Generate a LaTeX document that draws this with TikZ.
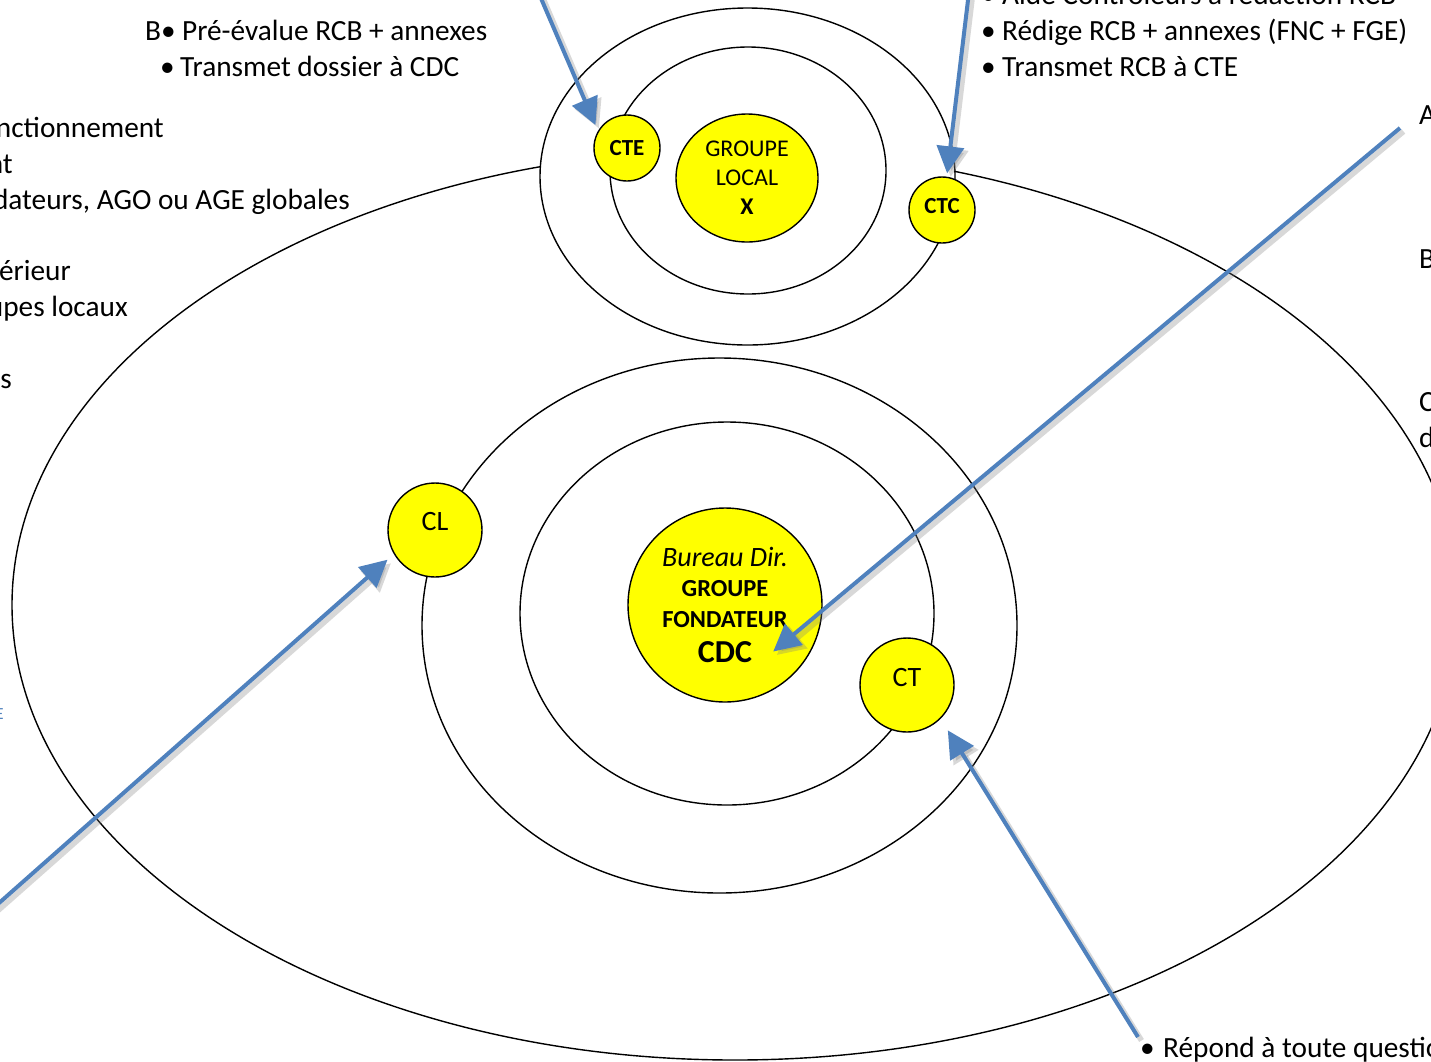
\documentclass[tikz,border=0pt]{standalone}
\usepackage{fontspec}
\setmainfont{Carlito}
\usetikzlibrary{arrows.meta,shapes.geometric,calc}
\definecolor{arrblue}{RGB}{79,129,189}
\definecolor{sunyel}{RGB}{255,255,0}
\newcommand{\bul}[1]{\makebox[#1][l]{•}}
\begin{document}
\begin{tikzpicture}[x=1pt,y=-1pt,
  ring/.style={draw=black, line width=1.4pt, fill=white},
  ybub/.style={circle, draw=black, line width=1.4pt, fill=sunyel, inner sep=0pt, align=center},
  txt/.style={inner sep=0pt, font=\fontsize{29.3}{36}\selectfont},
  conn/.style={draw=arrblue, line width=4pt, -{Triangle[length=27pt,width=27pt]}},
  connshadow/.style={draw=black!50, opacity=0.3, line width=5.5pt, -{Triangle[length=28pt,width=28pt]}, transform canvas={shift={(3.5pt,-3.5pt)}}},
]
\clip (0,0) rectangle (1431,1061);
\fill[white] (0,0) rectangle (1431,1061);

% big system
\draw[ring] (735,605) ellipse [x radius=723pt, y radius=455pt];
\draw[ring] (719.5,625.5) ellipse [x radius=297.5pt, y radius=267.5pt];
\draw[ring] (727,613.5) ellipse [x radius=207pt, y radius=191.5pt];

\node[ybub, minimum size=194pt, font=\fontsize{24.5}{30.25}\selectfont] (cdc) at (725,605)
  {{\itshape\fontsize{28}{30.25}\selectfont Bureau Dir.}\\ \textbf{GROUPE}\\ \textbf{FONDATEUR}\\[5pt] {\bfseries\fontsize{32}{30.25}\selectfont CDC}};
\node[ybub, minimum size=94pt, text depth=18pt, font=\fontsize{28}{30}\selectfont] (cl) at (435,530) {CL};
\node[ybub, minimum size=94pt, text depth=16pt, font=\fontsize{28}{30}\selectfont] (ct) at (907,685) {CT};

% top system
\draw[ring] (747.5,176.5) ellipse [x radius=207.5pt, y radius=168.5pt];
\draw[ring] (748,170.5) ellipse [x radius=138pt, y radius=123.5pt];
\node[ybub, ellipse, minimum width=142pt, minimum height=128pt, font=\fontsize{24}{29}\selectfont] (gl) at (747,178)
  {GROUPE\\ LOCAL\\ \textbf{X}};
\node[ybub, minimum size=66pt, font=\bfseries\fontsize{23}{26}\selectfont] (cte) at (627,148) {CTE};
\node[ybub, minimum size=66pt, text depth=8pt, font=\bfseries\fontsize{23}{26}\selectfont] (ctc) at (942,210) {CTC};

% texts
\node[txt, anchor=base west] (tl1) at (145,40) {B\bul{21pt}Pré-évalue RCB + annexes};
\node[txt, anchor=base west] (tl2) at (160,76) {\bul{20pt}Transmet dossier à CDC};

\node[txt, anchor=base west] (tr0) at (981,4) {\bul{21pt}Aide Contrôleurs à rédaction RCB};
\node[txt, anchor=base west] (tr1) at (981,40) {\bul{21pt}Rédige RCB + annexes (FNC + FGE)};
\node[txt, anchor=base west] (tr2) at (981,76) {\bul{21pt}Transmet RCB à CTE};

\node[txt, anchor=base east] (l1) at (164,137) {nctionnement};
\node[txt, anchor=base east] (l2) at (13,173) {nt};
\node[txt, anchor=base east] (l3) at (350,209) {dateurs, AGO ou AGE globales};
\node[txt, anchor=base east] (l4) at (71,280) {érieur};
\node[txt, anchor=base east] (l5) at (128,316) {upes locaux};
\node[txt, anchor=base east] (l6) at (12,388) {s};
\node[inner sep=0pt, anchor=base east, text=arrblue, font=\fontsize{17}{18}\selectfont] (l7) at (4,719) {E};

\node[txt, anchor=base west] (r1) at (1419,124) {A};
\node[txt, anchor=base west] (r2) at (1419,268) {B};
\node[txt, anchor=base west] (r3) at (1419,411) {C};
\node[txt, anchor=base west] (r4) at (1419,447) {d};

\node[txt, anchor=base west] (b1) at (1140,1057) {\bul{23pt}Répond à toute question};

% connectors
\coordinate (s1) at (540,-4);
\coordinate (s2) at (968.5,-4);
\coordinate (s3) at (1400,128);
\coordinate (s4) at (-10,911);
\coordinate (s5) at (1138,1037);
\coordinate (t1) at ($(cte.center)!39pt!(cte.144)$);
\coordinate (t2) at ($(ctc.center)!37pt!(ctc.82)$);
\coordinate (t3) at ($(cdc.center)!67pt!(cdc.316)$);
\coordinate (t4) at ($(cl.center)!56pt!(cl.212)$);
\coordinate (t5) at ($(ct.center)!61pt!(ct.312)$);

\foreach \s/\t in {s1/t1, s2/t2, s3/t3, s4/t4, s5/t5}
  \draw[connshadow] (\s) -- (\t);
\foreach \s/\t in {s1/t1, s2/t2, s3/t3, s4/t4, s5/t5}
  \draw[conn] (\s) -- (\t);
\end{tikzpicture}
\end{document}
